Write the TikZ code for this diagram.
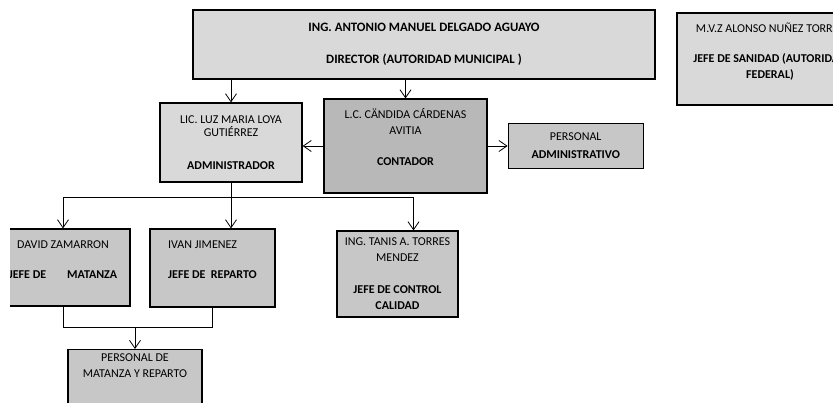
\documentclass[tikz,border=0pt]{standalone}
\usepackage{fontspec}
\setmainfont{Carlito}
\usetikzlibrary{positioning,arrows.meta}
\newcommand{\orgfont}{\fontsize{12}{16}\selectfont}
\newcommand{\dirfont}{\fontsize{12.8}{16}\selectfont}
\tikzset{
  line/.style={-{Straight Barb[length=8pt,width=11pt]}, line width=0.8pt},
  link/.style={line width=0.8pt},
  box/.style={draw, line width=1.2pt, align=center, inner sep=3pt, font=\orgfont},
  lightbox/.style={box, fill=black!15},
  midbox/.style={box, fill=black!22},
  darkbox/.style={box, fill=black!28}
}

\begin{document}
\begin{tikzpicture}[x=1pt, y=-1pt]
  \useasboundingbox (0,0) rectangle (833,402);
  \clip (10,0) rectangle (833,402);

  % top row
  \node[lightbox, font=\dirfont, minimum width=462pt, minimum height=69pt] (dir) at (424,44.5)
    {\textbf{ING. ANTONIO MANUEL DELGADO AGUAYO}\\[16pt]\textbf{DIRECTOR (AUTORIDAD MUNICIPAL )}};
  \node[lightbox, minimum width=186pt, minimum height=92pt] (sanid) at (770,59)
    {M.V.Z ALONSO NUÑEZ TORRES\\[14pt]\textbf{JEFE DE SANIDAD (AUTORIDAD}\\\textbf{FEDERAL)}\\\mbox{}};

  % second row
  \node[lightbox, minimum width=142pt, minimum height=79pt] (luz) at (231,142.5)
    {LIC. LUZ MARIA LOYA\\[-3pt]GUTIÉRREZ\\[17pt]\textbf{ADMINISTRADOR}};
  \node[darkbox, minimum width=163pt, minimum height=94pt] (conta) at (405.5,146)
    {L.C. CÄNDIDA CÁRDENAS\\AVITIA\\[15pt]\textbf{CONTADOR}\\[2pt]\mbox{}};
  \node[midbox, minimum width=135pt, minimum height=45pt, right=20pt of conta] (padmin)
    {PERSONAL\\[2pt]\textbf{ADMINISTRATIVO}};

  % third row
  \node[midbox, minimum width=134pt, minimum height=77pt] (david) at (63,267.5)
    {DAVID ZAMARRON\\[14pt]\textbf{JEFE DE\hspace{21pt}MATANZA}\\\mbox{}};
  \node[midbox, align=left, minimum width=125pt, minimum height=78pt] (ivan) at (212.5,268)
    {IVAN JIMENEZ\\[14pt]\textbf{JEFE DE\ \ REPARTO}\\\mbox{}};
  \node[midbox, minimum width=121pt, minimum height=86pt] (tanis) at (397.5,274)
    {ING. TANIS A. TORRES\\MENDEZ\\[16pt]\textbf{JEFE DE CONTROL}\\\textbf{CALIDAD}};
  \node[midbox, anchor=north, minimum width=134pt, inner ysep=4pt] (pers) at (135,349)
    {PERSONAL DE\\MATANZA Y REPARTO\\[30pt]\mbox{}};

  % connectors
  \draw[line] (dir.south -| luz.north) -- (luz.north);
  \draw[line] (dir.south -| conta.north) -- (conta.north);
  \draw[line] (conta.west) -- (conta.west -| luz.east);
  \draw[line] (conta.east |- padmin.west) -- (padmin.west);

  \draw[link] (luz.south) -- ++(0,15) coordinate (bus);
  \draw[line] (bus) -| (david.north);
  \draw[line] (bus) -- (bus |- ivan.north);
  \draw[line] (bus) -| ([xshift=16pt]tanis.north);

  \draw[link] (david.south) -- ++(0,21) coordinate (join) -| (ivan.south);
  \draw[line] (join -| pers.north) -- (pers.north);
\end{tikzpicture}
\end{document}
